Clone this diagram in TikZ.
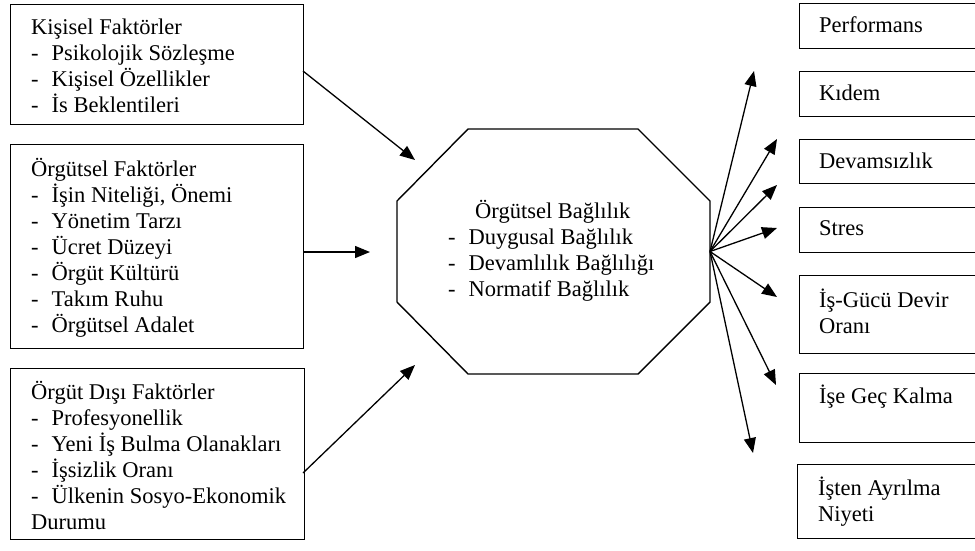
\documentclass[tikz,border=0pt]{standalone}
\usepackage{fontspec}
\setmainfont{Liberation Serif}
\newfontfamily\boxfont{Liberation Serif}
\usetikzlibrary{arrows.meta}
% dash followed by a tab stop for list items
\newcommand\dashitem{\makebox[20.5pt][l]{-}}
\begin{document}
\begin{tikzpicture}[x=1pt,y=-1pt,
  frame/.style={draw, line width=1.4pt, inner sep=0pt, anchor=north west},
  txt/.style={anchor=base west, inner sep=0pt, font=\boxfont\fontsize{22.5}{26}\selectfont},
  link/.style={line width=1.3pt, -{Triangle[length=15pt,width=12pt]}}]
\useasboundingbox (0,0) rectangle (975,550);
\fill[white] (0,0) rectangle (975,550);
\clip (0,0) rectangle (975,550);

% ---- factor boxes (left) ----
\node[frame, minimum width=293pt, minimum height=120pt] (kb) at (10,4) {};
\node[frame, minimum width=293pt, minimum height=204pt] (ob) at (10,144) {};
\node[frame, minimum width=294pt, minimum height=171pt] (db) at (10,368) {};

\node[txt] (kt) at (31,34) {\parbox[t]{270pt}{Kişisel Faktörler\\
  \dashitem Psikolojik Sözleşme\\
  \dashitem Kişisel Özellikler\\
  \dashitem İs Beklentileri}};
\node[txt] (ot) at (31,176) {\parbox[t]{270pt}{Örgütsel Faktörler\\
  \dashitem İşin Niteliği, Önemi\\
  \dashitem Yönetim Tarzı\\
  \dashitem Ücret Düzeyi\\
  \dashitem Örgüt Kültürü\\
  \dashitem Takım Ruhu\\
  \dashitem Örgütsel Adalet}};
\node[txt] (dt) at (31,399) {\parbox[t]{270pt}{Örgüt Dışı Faktörler\\
  \dashitem Profesyonellik\\
  \dashitem Yeni İş Bulma Olanakları\\
  \dashitem İşsizlik Oranı\\
  \dashitem Ülkenin Sosyo-Ekonomik\\
  Durumu}};

% ---- central octagon ----
\coordinate (o1) at (468,129);
\coordinate (o2) at (638,129);
\coordinate (o3) at (710,201);
\coordinate (o4) at (710,302);
\coordinate (o5) at (638,374);
\coordinate (o6) at (468,374);
\coordinate (o7) at (397,302);
\coordinate (o8) at (397,201);
\draw[line width=1.4pt] (o1) -- (o2) -- (o3) -- (o4) -- (o5) -- (o6) -- (o7) -- (o8) -- cycle;
\node[txt] (ct) at (448,218) {\parbox[t]{250pt}{\hspace*{27pt}Örgütsel Bağlılık\\
  \dashitem Duygusal Bağlılık\\
  \dashitem Devamlılık Bağlılığı\\
  \dashitem Normatif Bağlılık}};
\coordinate (hub) at (710,251.5);

% ---- outcome boxes (right) ----
\node[frame, minimum width=200pt, minimum height=45pt] (r1) at (799,3) {};
\node[frame, minimum width=200pt, minimum height=45pt] (r2) at (799,71) {};
\node[frame, minimum width=200pt, minimum height=44pt] (r3) at (799,139) {};
\node[frame, minimum width=200pt, minimum height=45pt] (r4) at (799,207) {};
\node[frame, minimum width=200pt, minimum height=78pt] (r5) at (799,275) {};
\node[frame, minimum width=200pt, minimum height=69pt] (r6) at (799,373) {};
\node[frame, minimum width=202pt, minimum height=74pt] (r7) at (797,464) {};

\node[txt] (t1) at (819,32) {Performans};
\node[txt] (t2) at (819,100) {Kıdem};
\node[txt] (t3) at (819,168) {Devamsızlık};
\node[txt] (t4) at (819,235) {Stres};
\node[txt] (t5) at (819,307) {\parbox[t]{150pt}{İş-Gücü Devir\\ Oranı}};
\node[txt] (t6) at (819,403) {İşe Geç Kalma};
\node[txt] (t7) at (818,495) {\parbox[t]{150pt}{İşten Ayrılma\\ Niyeti}};

% ---- incoming arrows ----
\coordinate (ks) at (303,71);
\coordinate (os) at (303,252);
\coordinate (ds) at (303,473);
\coordinate (ke) at (415,160);
\coordinate (oe) at (370,252);
\coordinate (de) at (415,365);
\draw[link] (ks) -- (ke);
\draw[link] (os) -- (oe);
\draw[link] (ds) -- (de);

% ---- outgoing fan ----
\coordinate (e1) at (754,71);
\coordinate (e2) at (777,139);
\coordinate (e3) at (777,185);
\coordinate (e4) at (777,228);
\coordinate (e5) at (777,297);
\coordinate (e6) at (776,385);
\coordinate (e7) at (753,453);
\foreach \k in {1,...,7} {\draw[link] (hub) -- (e\k);}
\end{tikzpicture}
\end{document}
